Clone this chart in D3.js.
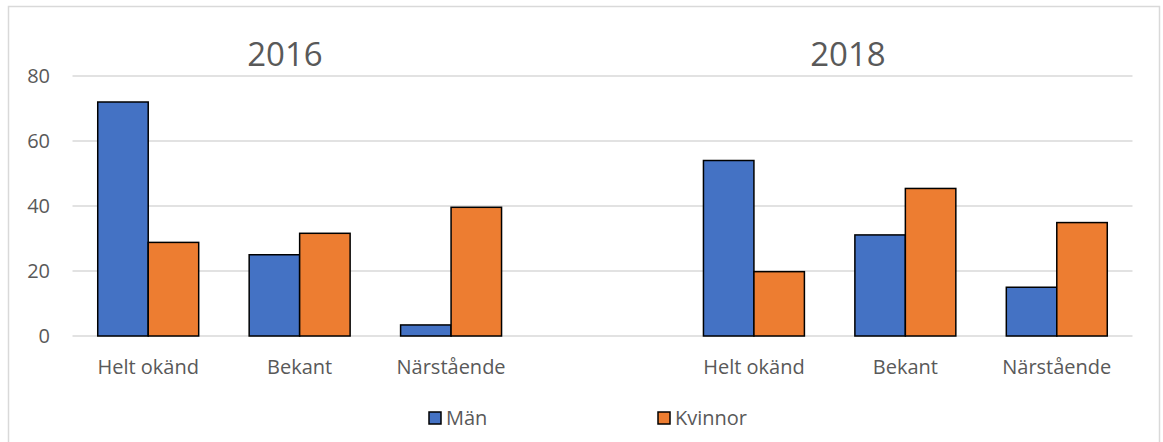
<!DOCTYPE html>
<html>
<head>
<meta charset="utf-8">
<script src="https://cdn.jsdelivr.net/npm/d3@7"></script>
<style>
 body { margin: 0; background: #fff; }
 text { font-family: "Open Sans", sans-serif; fill: #595959; }
</style>
</head>
<body>
<svg width="1163" height="442"></svg>
<script>
var svg = d3.select("svg"),
 width = +svg.attr("width"),
 height = +svg.attr("height");

// data
var years = ["2016", "2018"];
var categories = ["Helt okänd", "Bekant", "Närstående"];
var series = ["Män", "Kvinnor"];
var man2016 = [72, 25, 3.4];
var kvinnor2016 = [28.8, 31.6, 39.6];
var man2018 = [54, 31.1, 15];
var kvinnor2018 = [19.8, 45.4, 34.9];
var yTicks = [0, 20, 40, 60, 80];

var colors = d3.scaleOrdinal().domain(series).range(["#4472C4", "#ED7D31"]);

// slots: three per year with an empty slot in between
var rows = [];
categories.forEach(function(c, i) { rows.push({key: "2016|" + c, cat: c, vals: [man2016[i], kvinnor2016[i]]}); });
rows.push({key: "gap", cat: "", vals: []});
categories.forEach(function(c, i) { rows.push({key: "2018|" + c, cat: c, vals: [man2018[i], kvinnor2018[i]]}); });

var x = d3.scaleBand()
 .domain(rows.map(function(d) { return d.key; }))
 .range([72.5, 1132.5]);

var xs = d3.scaleBand()
 .domain(series)
 .range([0, x.bandwidth()])
 .paddingOuter(0.5);

var y = d3.scaleLinear()
 .domain([0, 80])
 .range([336, 76]);

// chart border
svg.append("rect")
 .attr("x", 8.5).attr("y", 6.5)
 .attr("width", 1151).attr("height", 446)
 .attr("fill", "none")
 .attr("stroke", "#d9d9d9")
 .attr("stroke-width", 1.5);

// gridlines
svg.append("g").selectAll("line")
 .data(yTicks)
 .enter().append("line")
 .attr("x1", x.range()[0]).attr("x2", x.range()[1])
 .attr("y1", function(d) { return y(d); })
 .attr("y2", function(d) { return y(d); })
 .attr("stroke", "#d9d9d9")
 .attr("stroke-width", 1.5);

// y tick labels
svg.append("g").selectAll("text")
 .data(yTicks)
 .enter().append("text")
 .attr("x", 50)
 .attr("y", function(d) { return y(d); })
 .attr("dy", "0.36em")
 .attr("text-anchor", "end")
 .attr("font-size", 20)
 .text(function(d) { return d; });

// bars
var groups = svg.append("g").selectAll("g")
 .data(rows)
 .enter().append("g")
 .attr("transform", function(d) { return "translate(" + x(d.key) + ",0)"; });

groups.selectAll("rect")
 .data(function(d) { return d.vals.map(function(v, i) { return {s: series[i], v: v}; }); })
 .enter().append("rect")
 .attr("x", function(d) { return xs(d.s); })
 .attr("width", xs.bandwidth())
 .attr("y", function(d) { return y(d.v); })
 .attr("height", function(d) { return y(0) - y(d.v); })
 .attr("fill", function(d) { return colors(d.s); })
 .attr("stroke", "#000")
 .attr("stroke-width", 1.5);

// category labels
groups.append("text")
 .attr("x", x.bandwidth() / 2)
 .attr("y", 374)
 .attr("text-anchor", "middle")
 .attr("font-size", 20)
 .text(function(d) { return d.cat; });

// year titles
svg.append("g").selectAll("text")
 .data(years)
 .enter().append("text")
 .attr("x", function(d, i) { return [285, 848][i]; })
 .attr("y", 66)
 .attr("text-anchor", "middle")
 .attr("font-size", 33)
 .text(function(d) { return d; });

// legend
var legend = svg.append("g").selectAll("g")
 .data(series)
 .enter().append("g")
 .attr("transform", function(d, i) { return "translate(" + [429, 658][i] + ",412)"; });

legend.append("rect")
 .attr("width", 12).attr("height", 12)
 .attr("fill", function(d) { return colors(d); })
 .attr("stroke", "#000")
 .attr("stroke-width", 1.5);

legend.append("text")
 .attr("x", 17)
 .attr("y", 13)
 .attr("font-size", 20)
 .text(function(d) { return d; });
</script>
</body>
</html>
